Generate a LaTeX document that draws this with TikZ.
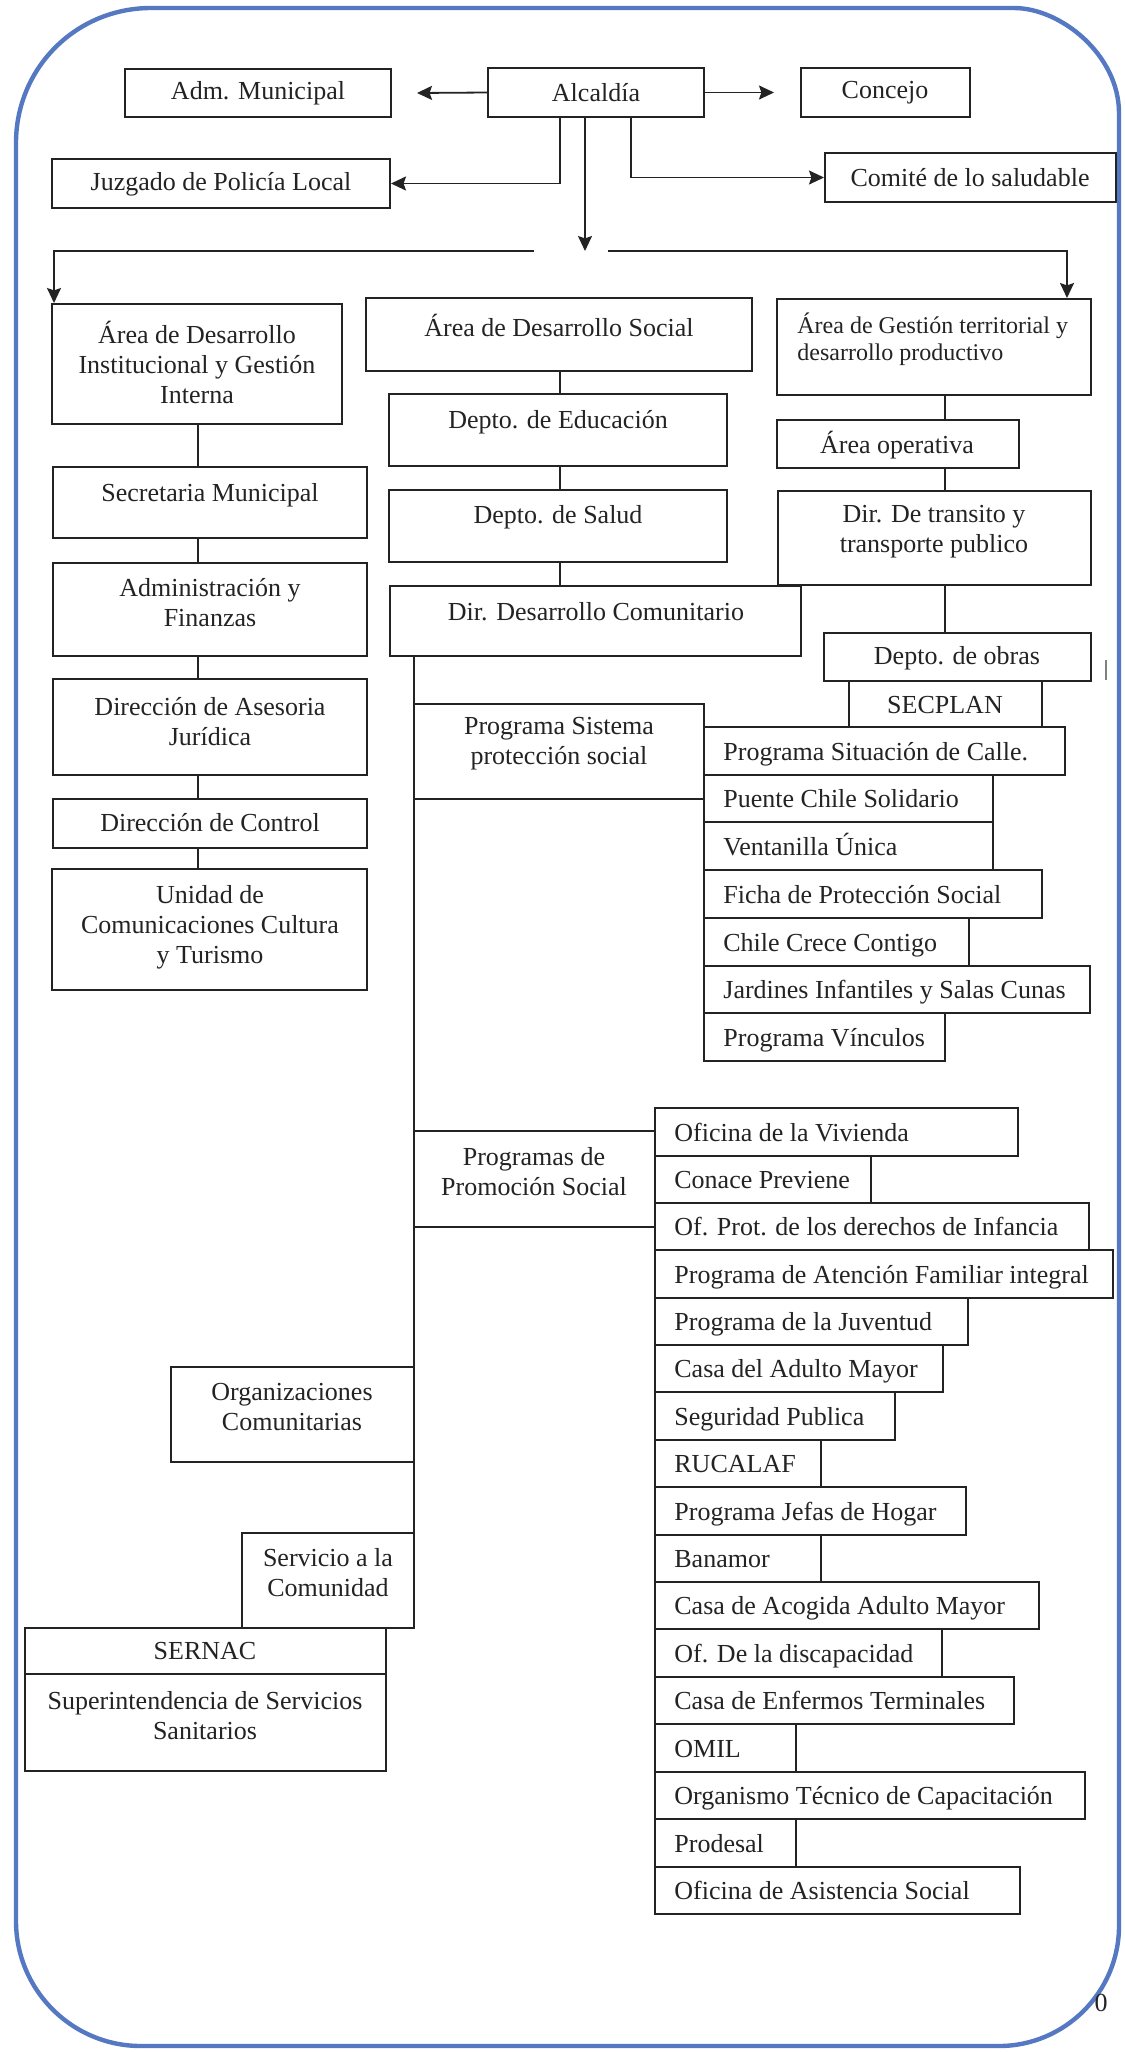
\documentclass[tikz,border=0pt]{standalone}
\usepackage{fontspec}
\setmainfont{Liberation Serif}
\usetikzlibrary{fit,calc,arrows.meta}
\definecolor{frame}{RGB}{84,120,194}
\definecolor{ink}{RGB}{35,35,35}
\newcommand\lrow[6]{\node[bx, fit={(#2,#3) (#4,#5)}] (#1) {};
  \node[lt] (#1-t) at ($(#1.west)+(20,9)$) {#6};}
\begin{document}
\begin{tikzpicture}[x=0.5pt,y=-0.5pt,
  bx/.style={draw=ink, line width=1pt, inner sep=0pt},
  tx/.style={font=\fontsize{13}{15}\selectfont, align=center, inner sep=0pt, text=ink},
  lt/.style={font=\fontsize{13}{15}\selectfont, anchor=base west, inner sep=0pt, text=ink},
  ln/.style={draw=ink, line width=0.9pt},
  arr/.style={ln, -{Stealth[length=7.5pt,width=7pt,inset=1.2pt]}}]
\useasboundingbox (0,0) rectangle (1125,2052);
\fill[white] (0,0) rectangle (1125,2052);
\draw[frame, line width=2.2pt, line join=round]
  (151,8) -- (1014,8) .. controls (1061,8) and (1119,55) .. (1119,113)
  -- (1119,1926) .. controls (1119,1992) and (1065,2046) .. (999,2046)
  -- (141,2046) .. controls (72,2046) and (16,1990) .. (16,1921)
  -- (16,143) .. controls (16,68) and (76,8) .. cycle;

% top level
\node[bx, fit={(125,69) (391,117)}] (adm) {};
\node[tx] (adm-t) at (258,93) {Adm. Municipal};
\node[bx, fit={(488,68) (704,117)}] (alc) {};
\node[tx] (alc-t) at (596,93) {Alcaldía};
\node[bx, fit={(801,68) (970,117)}] (con) {};
\node[tx] (con-t) at (885,93) {Concejo};
\node[bx, fit={(52,159) (390,208)}] (juz) {};
\node[tx] (juz-t) at (221,184) {Juzgado de Policía Local};
\node[bx, fit={(825,153) (1116,202)}] (com) {};
\node[tx] (com-t) at (970,178) {Comité de lo saludable};

\coordinate (jx) at (560,0);
\coordinate (cx) at (631,0);
\coordinate (mx) at (585,0);
\coordinate (mid) at (585,251);
\coordinate (hl1) at (54,251);
\coordinate (hl2) at (534,251);
\coordinate (hr1) at (608,251);
\coordinate (hr2) at (1067,251);

\draw[arr] (alc.west) -- ($(adm.east)+(25,0)$);
\draw[arr] (alc.east) -- ($(con.west)+(-26,0)$);
\draw[arr] (alc.south -| jx) |- (juz.east);
\draw[arr] (alc.south -| cx) |- (com.west);
\draw[arr] (alc.south -| mx) -- (mid);

% areas
\node[bx, fit={(52,304) (342,424)}] (ai) {};
\node[tx] (ai-t) at (197,362) {Área de Desarrollo\\Institucional y Gestión\\Interna};
\node[bx, fit={(366,298) (752,371)}] (as) {};
\node[tx] (as-t) at (559,325) {Área de Desarrollo Social};
\node[bx, fit={(777,299) (1091,395)}] (ag) {};
\node[font=\fontsize{12}{13.5}\selectfont, align=left, anchor=west, inner sep=0pt, text=ink] (ag-t) at (797,339) {Área de Gestión territorial y\\desarrollo productivo};

\draw[arr] (hl2) -- (hl1) -- (ai.north -| hl1);
\draw[arr] (hr1) -- (hr2) -- (ag.north -| hr2);

% left column
\node[bx, fit={(53,467) (367,538)}] (sec) {};
\node[tx] (sec-t) at (210,495) {Secretaria Municipal};
\node[bx, fit={(53,563) (367,656)}] (adf) {};
\node[tx] (adf-t) at (210,603) {Administración y\\Finanzas};
\node[bx, fit={(53,679) (367,775)}] (ase) {};
\node[tx] (ase-t) at (210,722) {Dirección de Asesoria\\Jurídica};
\node[bx, fit={(53,799) (367,848)}] (ctl) {};
\node[tx] (ctl-t) at (210,823) {Dirección de Control};
\node[bx, fit={(52,869) (367,990)}] (uni) {};
\node[tx] (uni-t) at (210,927) {Unidad de\\Comunicaciones Cultura\\y Turismo};
\coordinate (lx) at (198,0);
\draw[ln] (ai.south -| lx) -- (sec.north -| lx);
\draw[ln] (sec.south -| lx) -- (adf.north -| lx);
\draw[ln] (adf.south -| lx) -- (ase.north -| lx);
\draw[ln] (ase.south -| lx) -- (ctl.north -| lx);
\draw[ln] (ctl.south -| lx) -- (uni.north -| lx);

% middle column
\node[bx, fit={(389,394) (727,466)}] (edu) {};
\node[tx] (edu-t) at (558,422) {Depto. de Educación};
\node[bx, fit={(389,490) (727,562)}] (sal) {};
\node[tx] (sal-t) at (558,517) {Depto. de Salud};
\node[bx, fit={(390,586) (801,656)}] (ddc) {};
\node[tx] (ddc-t) at (596,612) {Dir. Desarrollo Comunitario};
\coordinate (sx) at (560,0);
\draw[ln] (as.south -| sx) -- (edu.north -| sx);
\draw[ln] (edu.south -| sx) -- (sal.north -| sx);
\draw[ln] (sal.south -| sx) -- (ddc.north -| sx);

% right column
\node[bx, fit={(777,420) (1019,468)}] (aop) {};
\node[tx] (aop-t) at (897,445) {Área operativa};
\node[bx, fit={(778,491) (1091,585)}] (dtr) {};
\node[tx] (dtr-t) at (934,532) {Dir. De transito y\\transporte publico};
\node[bx, fit={(824,633) (1091,681)}] (obr) {};
\node[tx] (obr-t) at (957,658) {Depto. de obras};
\node[bx, fit={(849,681) (1042,727)}] (spl) {};
\node[tx] (spl-t) at (945,705) {SECPLAN};
\coordinate (rx) at (945,0);
\draw[ln] (ag.south -| rx) -- (aop.north -| rx);
\draw[ln] (aop.south -| rx) -- (dtr.north -| rx);
\draw[ln] (dtr.south -| rx) -- (obr.north -| rx);

% stray mark
\coordinate (m1) at (1106,660);
\coordinate (m2) at (1106,680);
\draw[gray, line width=0.7pt] (m1) -- (m2);

% trunk
\node[bx, fit={(414,704) (704,799)}] (pss) {};
\node[tx] (pss-t) at (559,744) {Programa Sistema\\protección social};
\lrow{psc}{704}{727}{1065}{775}{Programa Situación de Calle.}
\lrow{pcs}{704}{775}{993}{822}{Puente Chile Solidario}
\lrow{vu}{704}{822}{993}{870}{Ventanilla Única}
\lrow{fps}{704}{870}{1042}{918}{Ficha de Protección Social}
\lrow{ccc}{704}{918}{969}{966}{Chile Crece Contigo}
\lrow{jis}{704}{966}{1090}{1013}{Jardines Infantiles y Salas Cunas}
\lrow{pv}{704}{1013}{945}{1061}{Programa Vínculos}

\node[bx, fit={(414,1131) (655,1227)}] (pps) {};
\node[tx] (pps-t) at (534,1172) {Programas de\\Promoción Social};
\lrow{ov}{655}{1108}{1018}{1156}{Oficina de la Vivienda}
\lrow{cp}{655}{1156}{871}{1203}{Conace Previene}
\lrow{opd}{655}{1203}{1089}{1250}{Of. Prot. de los derechos de Infancia}
\lrow{paf}{655}{1250}{1113}{1298}{Programa de Atención Familiar integral}
\lrow{pj}{655}{1298}{968}{1345}{Programa de la Juventud}
\lrow{cam}{655}{1345}{943}{1392}{Casa del Adulto Mayor}
\lrow{sp}{655}{1392}{895}{1440}{Seguridad Publica}
\lrow{ruc}{655}{1440}{821}{1487}{RUCALAF}
\lrow{pjh}{655}{1487}{966}{1535}{Programa Jefas de Hogar}
\lrow{ban}{655}{1535}{821}{1582}{Banamor}
\lrow{caa}{655}{1582}{1039}{1629}{Casa de Acogida Adulto Mayor}
\lrow{odd}{655}{1629}{942}{1677}{Of. De la discapacidad}
\lrow{cet}{655}{1677}{1014}{1724}{Casa de Enfermos Terminales}
\lrow{omil}{655}{1724}{796}{1772}{OMIL}
\lrow{otc}{655}{1772}{1085}{1819}{Organismo Técnico de Capacitación}
\lrow{pro}{655}{1819}{796}{1867}{Prodesal}
\lrow{oas}{655}{1867}{1020}{1914}{Oficina de Asistencia Social}

\node[bx, fit={(171,1367) (414,1462)}] (org) {};
\node[tx] (org-t) at (292,1407) {Organizaciones\\Comunitarias};
\node[bx, fit={(242,1533) (414,1628)}] (srv) {};
\node[tx] (srv-t) at (328,1573) {Servicio a la\\Comunidad};
\node[bx, fit={(25,1628) (386,1674)}] (ser) {};
\node[tx] (ser-t) at (205,1651) {SERNAC};
\node[bx, fit={(25,1674) (386,1771)}] (sup) {};
\node[tx] (sup-t) at (205,1716) {Superintendencia de Servicios\\Sanitarios};

\coordinate (tk) at (414,0);
\draw[ln] (ddc.south -| tk) -- (srv.south -| tk);

% page number fragment
\node[tx] (pg) at (1101,2003) {0};
\end{tikzpicture}
\end{document}
